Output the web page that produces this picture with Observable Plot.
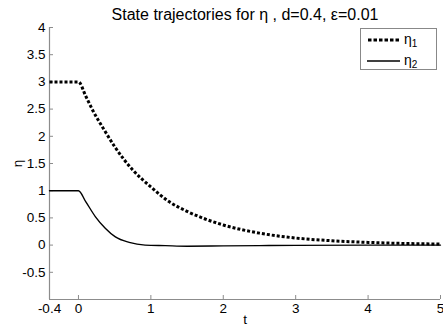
<!DOCTYPE html>
<html>
<head>
<meta charset="utf-8">
<script src="https://cdn.jsdelivr.net/npm/d3@7"></script>
<script src="https://cdn.jsdelivr.net/npm/@observablehq/plot@0.6"></script>
<style>
  html, body { margin: 0; padding: 0; background: #fff; }
  #wrap { position: relative; width: 443px; height: 327px; font-family: "Liberation Sans", Arial, sans-serif; }
  #legend { position: absolute; left: 360px; top: 28px; width: 77px; height: 42px; border: 1px solid #888; background: #fff; box-sizing: border-box; }
</style>
</head>
<body>
<div id="wrap"></div>
<script>
const title = "State trajectories for \u03b7 , d=0.4, \u03b5=0.01";
const xLabel = "t";
const yLabel = "\u03b7";
const xTicks = [-0.4, 0, 1, 2, 3, 4, 5];
const yTicks = [-0.5, 0, 0.5, 1, 1.5, 2, 2.5, 3, 3.5, 4];
const xDomain = [-0.4, 5];
const yDomain = [-1, 4];

const t1 = [-0.4, 0, 0.1, 0.2, 0.35, 0.5, 0.75, 1.0, 1.25, 1.5, 1.75, 2.0, 2.5, 3.0, 3.5, 4.0, 4.5, 5.0];
const eta1 = [3, 3, 2.74, 2.47, 2.13, 1.81, 1.38, 1.07, 0.80, 0.62, 0.48, 0.37, 0.22, 0.13, 0.08, 0.05, 0.03, 0.02];

const t2 = [-0.4, 0, 0.1, 0.235, 0.37, 0.51, 0.7, 0.92, 1.2, 1.5, 2.0, 2.5, 3.0, 4.0, 5.0];
const eta2 = [1, 1, 0.80, 0.52, 0.31, 0.15, 0.05, 0.0, -0.01, -0.02, -0.015, -0.01, -0.005, 0, 0];

const d1 = t1.map((t, i) => ({t, v: eta1[i]}));
const d2 = t2.map((t, i) => ({t, v: eta2[i]}));

const axisColor = "#8c8c8c";
const fmt = d => String(d);

const plot = Plot.plot({
  width: 443,
  height: 327,
  marginTop: 27,
  marginBottom: 28,
  marginLeft: 49,
  marginRight: 3,
  style: {fontFamily: "'Liberation Sans', Arial, sans-serif", fontSize: "13.5px", color: "#000", background: "#fff"},
  x: {domain: xDomain},
  y: {domain: yDomain},
  marks: [
    Plot.ruleY([yDomain[0]], {stroke: axisColor, strokeWidth: 1.2}),
    Plot.ruleX([xDomain[0]], {stroke: axisColor, strokeWidth: 1.2}),
    Plot.axisX(xTicks, {tickSize: 0, tickPadding: 4, tickFormat: fmt, label: xLabel, labelAnchor: "center", labelArrow: "none", labelOffset: 24, fontSize: 13.5}),
    Plot.axisX(xTicks, {tickSize: -4, tickFormat: () => "", label: null, stroke: axisColor}),
    Plot.axisY(yTicks, {tickSize: 0, tickPadding: 4, tickFormat: fmt, label: yLabel, labelAnchor: "center", labelArrow: "none", labelOffset: 37, fontSize: 13.5}),
    Plot.axisY(yTicks, {tickSize: -4, tickFormat: () => "", label: null, stroke: axisColor}),
    Plot.line(d2, {x: "t", y: "v", stroke: "#000", strokeWidth: 1.4, curve: "monotone-x"}),
    Plot.line(d1, {x: "t", y: "v", stroke: "#000", strokeWidth: 3, strokeDasharray: "3,2", strokeLinecap: "butt", curve: "monotone-x"}),
    Plot.text([title], {frameAnchor: "top", dy: -19, fontSize: 16, fill: "#000"})
  ]
});
document.getElementById("wrap").appendChild(plot);

const legend = document.createElement("div");
legend.id = "legend";
legend.innerHTML = `
<svg width="77" height="42" xmlns="http://www.w3.org/2000/svg" style="font-family:'Liberation Sans', Arial, sans-serif">
  <line x1="7" y1="11" x2="39" y2="11" stroke="#000" stroke-width="3" stroke-dasharray="3.5,2"/>
  <text x="43" y="15" font-size="14">\u03b7<tspan font-size="10" dy="3">1</tspan></text>
  <line x1="6" y1="32" x2="39" y2="32" stroke="#000" stroke-width="1.4"/>
  <text x="43" y="36" font-size="14">\u03b7<tspan font-size="10" dy="3">2</tspan></text>
</svg>`;
document.getElementById("wrap").appendChild(legend);
</script>
</body>
</html>
